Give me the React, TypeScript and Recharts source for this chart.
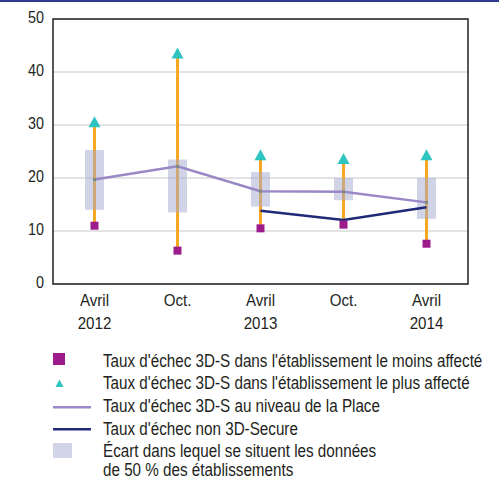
import {
  ComposedChart,
  Bar,
  Line,
  Scatter,
  XAxis,
  YAxis,
  CartesianGrid,
  ReferenceArea,
} from "recharts";

const FONT = '"Liberation Sans", Arial, sans-serif';
const TEXT = "#231f20";
// condensed look: Liberation Sans squeezed horizontally
const SQUEEZE = 0.87;

// periods
const categories = ["Avril 2012", "Oct. 2012", "Avril 2013", "Oct. 2013", "Avril 2014"];
const months = ["Avril", "Oct.", "Avril", "Oct.", "Avril"];
const years = ["2012", "", "2013", "", "2014"];

// failure rates (%)
const minRate = [11.0, 6.3, 10.5, 11.2, 7.6];
const maxRate = [30.5, 43.5, 24.3, 23.6, 24.3];
const boxLow = [14.0, 13.5, 14.6, 15.8, 12.3];
const boxHigh = [25.3, 23.5, 21.1, 20.0, 20.0];
const placeRate = [19.7, 22.2, 17.5, 17.4, 15.4];
const non3dsRate: (number | null)[] = [null, null, 13.8, 12.1, 14.5];

const yTicks = [0, 10, 20, 30, 40, 50];

const data = categories.map((name, i) => ({
  name,
  min: minRate[i],
  max: maxRate[i],
  range: [minRate[i], maxRate[i]],
  box: [boxLow[i], boxHigh[i]],
  place: placeRate[i],
  non3ds: non3dsRate[i],
}));

const legendItems = [
  "Taux d'échec 3D-S dans l'établissement le moins affecté",
  "Taux d'échec 3D-S dans l'établissement le plus affecté",
  "Taux d'échec 3D-S au niveau de la Place",
  "Taux d'échec non 3D-Secure",
  "Écart dans lequel se situent les données",
  "de 50 % des établissements",
];

function NarrowText({ x, y, size, anchor, children }: any) {
  return (
    <text
      transform={`translate(${x},${y}) scale(${SQUEEZE},1)`}
      textAnchor={anchor || "start"}
      fontSize={size}
      fill={TEXT}
      fontFamily={FONT}
    >
      {children}
    </text>
  );
}

function XTick(props: any) {
  const { x, y, payload } = props;
  const i = payload.index;
  return (
    <g>
      <NarrowText x={x} y={y + 22} size={17.4} anchor="middle">{months[i]}</NarrowText>
      <NarrowText x={x} y={y + 45} size={17.4} anchor="middle">{years[i]}</NarrowText>
    </g>
  );
}

function YTick(props: any) {
  const { x, y, payload } = props;
  return (
    <NarrowText x={x} y={y + 4.3} size={16.5} anchor="end">{payload.value}</NarrowText>
  );
}

function Square(props: any) {
  const { cx, cy } = props;
  return <rect x={cx - 4} y={cy - 4} width={8} height={8} fill="#9d1c8c" />;
}

function Triangle(props: any) {
  const { cx, cy } = props;
  return <path d={`M${cx},${cy - 6} L${cx + 6},${cy + 5} L${cx - 6},${cy + 5} Z`} fill="#2ec4c0" />;
}

function PlaceDot(props: any) {
  const { cx, cy } = props;
  return <rect x={cx - 1.5} y={cy - 1.5} width={3} height={3} fill="#7f8a80" />;
}

const rowBase = [367, 389, 412, 434.5, 457, 476];

export default function App() {
  return (
    <div style={{ position: "absolute", left: 0, top: 0, width: 499, height: 484, background: "#fff" }}>
      <div style={{ position: "absolute", left: 0, top: 0, width: 499, height: 2, background: "#2f3a8f" }} />
      <ComposedChart
        width={499}
        height={340}
        data={data}
        margin={{ top: 19, right: 31, left: 8, bottom: 6 }}
      >
        <CartesianGrid horizontal vertical={false} stroke="#c8c8c8" strokeWidth={1.2} />
        <XAxis
          dataKey="name"
          height={50}
          tick={<XTick />}
          tickLine={false}
          axisLine={false}
          tickSize={0}
          tickMargin={0}
          interval={0}
        />
        <XAxis xAxisId="whisker" dataKey="name" hide />
        <XAxis xAxisId="box" dataKey="name" hide />
        <YAxis
          domain={[0, 50]}
          ticks={yTicks}
          width={45}
          tickLine={false}
          axisLine={false}
          tickSize={7}
          tickMargin={2}
          tick={<YTick />}
        />
        <Bar xAxisId="whisker" dataKey="range" barSize={3} fill="#f7a823" isAnimationActive={false} />
        <Bar xAxisId="box" dataKey="box" barSize={19} fill="#a3aacf" fillOpacity={0.5} isAnimationActive={false} />
        <Line
          dataKey="place"
          stroke="#9a88c6"
          strokeWidth={2.5}
          dot={<PlaceDot />}
          activeDot={false}
          isAnimationActive={false}
        />
        <Line
          dataKey="non3ds"
          stroke="#1e2a78"
          strokeWidth={2.5}
          dot={false}
          activeDot={false}
          isAnimationActive={false}
        />
        <Scatter dataKey="min" shape={<Square />} isAnimationActive={false} />
        <Scatter dataKey="max" shape={<Triangle />} isAnimationActive={false} />
        <ReferenceArea y1={0} y2={50} fill="none" stroke="#222" strokeWidth={1.5} ifOverflow="extendDomain" />
      </ComposedChart>
      <svg width={499} height={484} style={{ position: "absolute", left: 0, top: 0, pointerEvents: "none" }}>
        <rect x={53} y={353} width={12} height={12} fill="#9d1c8c" />
        <path d="M59.5,379.5 L63.5,387 L55.5,387 Z" fill="#2ec4c0" />
        <rect x={53} y={406} width={38} height={2.5} fill="#9a88c6" />
        <rect x={53} y={428} width={38} height={2.5} fill="#1e2a78" />
        <rect x={53} y={443} width={19} height={15} fill="#d1d5e7" />
        {legendItems.map((t, i) => (
          <NarrowText key={i} x={103} y={rowBase[i]} size={17.5}>{t}</NarrowText>
        ))}
      </svg>
    </div>
  );
}
